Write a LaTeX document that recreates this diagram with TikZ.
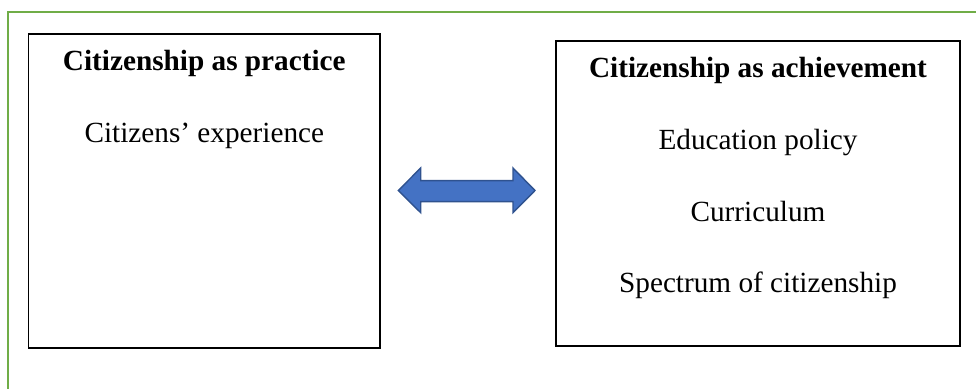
\documentclass[tikz,border=0pt]{standalone}
\usepackage{fontspec}
\setmainfont{Liberation Serif}
\usetikzlibrary{positioning}
\definecolor{framegreen}{HTML}{70AD47}
\definecolor{arrowblue}{HTML}{4472C4}
\definecolor{arrowedge}{HTML}{2F528F}

\begin{document}
\begin{tikzpicture}[x=0.25mm,y=-0.25mm,
    every node/.style={font=\fontsize{20.8}{25}\selectfont},
    panel/.style={draw,line width=0.4mm,inner sep=0pt},
    heading/.style={font=\fontsize{20.8}{25}\selectfont\bfseries,anchor=base},
    entry/.style={anchor=base},
    node distance=17.9mm, on grid]
    \clip (0,0) rectangle (976,389);
    \draw[framegreen,line width=0.5mm] (8.3,12) rectangle (1000,420);

    % the two panels
    \node[panel,minimum width=87.85mm,minimum height=78.5mm] (practice) at (204.3,191) {};
    \node[panel,minimum width=101mm,minimum height=76.25mm] (achieve) at (758,193.5) {};

    \node[heading] (t1) at ([yshift=-9.45mm]practice.north) {Citizenship as practice};
    \node[below=of t1.base,entry] (p1) {Citizens’ experience};

    \node[heading] (t2) at ([yshift=-9.45mm]achieve.north) {Citizenship as achievement};
    \node[below=of t2.base,entry] (a1) {Education policy};
    \node[below=of a1.base,entry] (a2) {Curriculum};
    \node[below=of a2.base,entry] (a3) {Spectrum of citizenship};

    % block arrow in between
    \draw[fill=arrowblue,draw=arrowedge,line width=0.35mm]
        (398.3,190.5) -- (420.7,168) -- (420.7,180.7) -- (513,180.7) -- (513,168)
        -- (535,190.5) -- (513,212.7) -- (513,201.7) -- (420.7,201.7) -- (420.7,212.7) -- cycle;
\end{tikzpicture}
\end{document}
